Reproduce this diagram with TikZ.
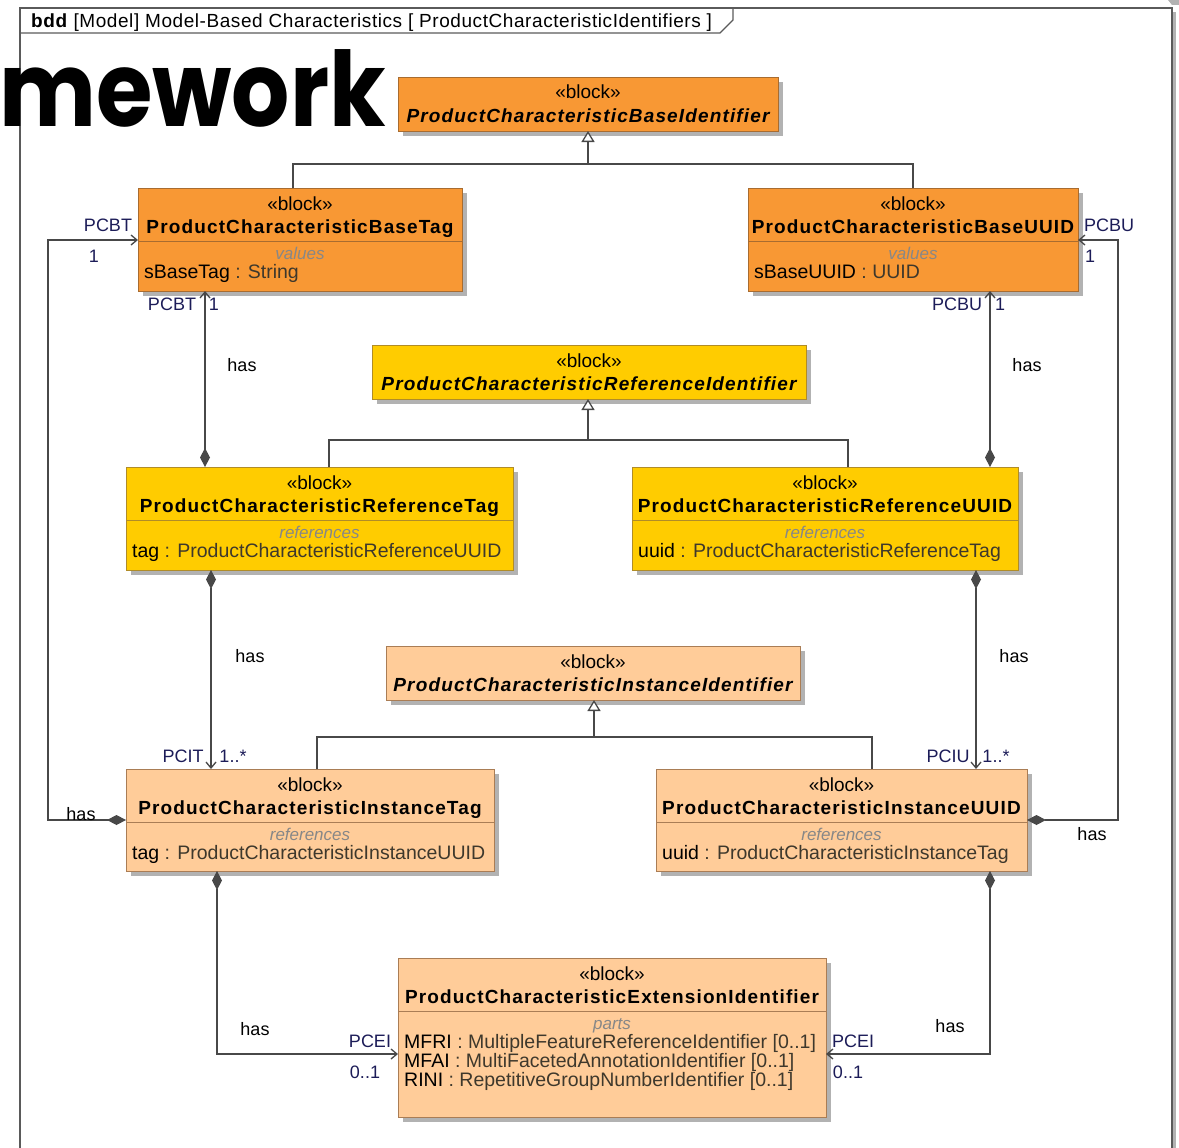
\documentclass[tikz,border=0pt]{standalone}
\usepackage{fontspec}
\setmainfont{Liberation Sans}
\newfontfamily\headlinefont{Poppins}
\usetikzlibrary{arrows.meta}

\definecolor{baseorange}{RGB}{248,152,52}
\definecolor{baseborder}{RGB}{168,108,48}
\definecolor{refyellow}{RGB}{255,204,0}
\definecolor{refborder}{RGB}{176,140,40}
\definecolor{instpeach}{RGB}{255,204,153}
\definecolor{instborder}{RGB}{170,125,85}
\definecolor{boxshadow}{RGB}{178,178,178}
\definecolor{linegrey}{RGB}{72,72,72}
\definecolor{framegrey}{RGB}{90,90,90}
\definecolor{rolenavy}{RGB}{28,28,88}
\definecolor{compgrey}{RGB}{135,135,135}
\definecolor{typegrey}{RGB}{62,56,44}

\tikzset{
  blockbox/.style={draw, line width=0.9pt, inner sep=0pt, outer sep=0pt, anchor=north west},
  stereo/.style={font=\fontsize{19}{19}\selectfont, inner sep=0pt, anchor=base},
  bname/.style={font=\fontsize{19}{19}\selectfont\bfseries\addfontfeature{LetterSpace=6}, inner sep=0pt, anchor=base},
  aname/.style={font=\fontsize{19}{19}\selectfont\bfseries\itshape\addfontfeature{LetterSpace=6}, inner sep=0pt, anchor=base},
  complbl/.style={font=\fontsize{17}{17}\selectfont\itshape, text=compgrey, inner sep=0pt, anchor=base},
  attr/.style={font=\fontsize{19.5}{19.5}\selectfont, inner sep=0pt, anchor=base west},
  role/.style={font=\fontsize{18}{18}\selectfont, text=rolenavy, inner sep=0pt},
  haslbl/.style={font=\fontsize{18}{18}\selectfont, text=black, inner sep=0pt},
  conn/.style={draw=linegrey, line width=1.4pt},
  genline/.style={conn},
  gentip/.style={conn, -{Triangle[open, length=11pt, width=13pt, fill=white, line width=1.3pt]}},
  comptipnav/.style={{Diamond[length=19pt, width=10pt, fill=linegrey]}-{Straight Barb[length=6pt, width=10pt, line width=1.3pt]}},
  frameline/.style={draw=framegrey, line width=1.5pt},
}

% a block: shadow, box
\newcommand{\umlbox}[7]{%
  \fill[boxshadow] (#2+5,#3+5) rectangle ++(#4,#5);
  \node[blockbox, fill=#6, draw=#7, minimum width=#4pt, minimum height=#5pt] (#1) at (#2,#3) {};}
% stereotype and name
\newcommand{\umlhead}[3]{%
  \node[stereo] (#1-st) at ([yshift=-22pt]#1.north) {«block»};
  \node[#3] (#1-nm) at ([yshift=-45pt]#1.north) {#2};}
% compartment separator and its label
\newcommand{\umlcomp}[3]{%
  \draw[line width=0.9pt, draw=#2] ([yshift=-53pt]#1.north west) -- ([yshift=-53pt]#1.north east);
  \node[complbl] (#1-cl) at ([yshift=-71pt]#1.north) {#3};}

\begin{document}
\begin{tikzpicture}[x=1pt,y=-1pt]
\useasboundingbox (0,0) rectangle (1179,1148);

% diagram frame and its name tab
\fill[boxshadow] (1173,12) rectangle (1176,1148);
\fill[boxshadow] (1168,0) -- (1179,0) -- (1179,5) -- (1172,5) -- cycle;
\draw[frameline] (20,1148) -- (20,8) -- (1172,8) -- (1172,1148);
\draw[frameline, line width=1.1pt] (20,33) -- (720,33) -- (733,20) -- (733,8);
\node[anchor=base west, inner sep=0pt, font=\fontsize{19}{19}\selectfont\addfontfeature{LetterSpace=3}] (title) at (31,28)
  {\textbf{bdd} [Model] Model-Based Characteristics [ ProductCharacteristicIdentifiers ]};

% blocks
\umlbox{bi}{398}{77}{380}{54}{baseorange}{baseborder}
\umlhead{bi}{ProductCharacteristicBaseIdentifier}{aname}

\umlbox{bt}{138}{188}{324}{103}{baseorange}{baseborder}
\umlhead{bt}{ProductCharacteristicBaseTag}{bname}
\umlcomp{bt}{baseborder}{values}
\node[attr] (bt-a1) at ([xshift=6pt,yshift=-90pt]bt.north west) {sBaseTag \textcolor{typegrey}{: String}};

\umlbox{bu}{748}{188}{330}{103}{baseorange}{baseborder}
\umlhead{bu}{ProductCharacteristicBaseUUID}{bname}
\umlcomp{bu}{baseborder}{values}
\node[attr] (bu-a1) at ([xshift=6pt,yshift=-90pt]bu.north west) {sBaseUUID \textcolor{typegrey}{: UUID}};

\umlbox{ri}{372}{345}{434}{54}{refyellow}{refborder}
\umlhead{ri}{ProductCharacteristicReferenceIdentifier}{aname}

\umlbox{rt}{126}{467}{387}{103}{refyellow}{refborder}
\umlhead{rt}{ProductCharacteristicReferenceTag}{bname}
\umlcomp{rt}{refborder}{references}
\node[attr] (rt-a1) at ([xshift=6pt,yshift=-90pt]rt.north west) {tag \textcolor{typegrey}{: ProductCharacteristicReferenceUUID}};

\umlbox{ru}{632}{467}{386}{103}{refyellow}{refborder}
\umlhead{ru}{ProductCharacteristicReferenceUUID}{bname}
\umlcomp{ru}{refborder}{references}
\node[attr] (ru-a1) at ([xshift=6pt,yshift=-90pt]ru.north west) {uuid \textcolor{typegrey}{: ProductCharacteristicReferenceTag}};

\umlbox{ii}{386}{646}{414}{54}{instpeach}{instborder}
\umlhead{ii}{ProductCharacteristicInstanceIdentifier}{aname}

\umlbox{it}{126}{769}{368}{102}{instpeach}{instborder}
\umlhead{it}{ProductCharacteristicInstanceTag}{bname}
\umlcomp{it}{instborder}{references}
\node[attr] (it-a1) at ([xshift=6pt,yshift=-90pt]it.north west) {tag \textcolor{typegrey}{: ProductCharacteristicInstanceUUID}};

\umlbox{iu}{656}{769}{371}{102}{instpeach}{instborder}
\umlhead{iu}{ProductCharacteristicInstanceUUID}{bname}
\umlcomp{iu}{instborder}{references}
\node[attr] (iu-a1) at ([xshift=6pt,yshift=-90pt]iu.north west) {uuid \textcolor{typegrey}{: ProductCharacteristicInstanceTag}};

\umlbox{ei}{398}{958}{428}{159}{instpeach}{instborder}
\umlhead{ei}{ProductCharacteristicExtensionIdentifier}{bname}
\umlcomp{ei}{instborder}{parts}
\node[attr] (ei-a1) at ([xshift=6pt,yshift=-90pt]ei.north west) {MFRI \textcolor{typegrey}{: MultipleFeatureReferenceIdentifier [0..1]}};
\node[attr] (ei-a2) at ([xshift=6pt,yshift=-109pt]ei.north west) {MFAI \textcolor{typegrey}{: MultiFacetedAnnotationIdentifier [0..1]}};
\node[attr] (ei-a3) at ([xshift=6pt,yshift=-128pt]ei.north west) {RINI \textcolor{typegrey}{: RepetitiveGroupNumberIdentifier [0..1]}};

% generalizations
\coordinate (gb) at (588,164);
\draw[genline] (bt.north -| 293,0) |- (gb) -| (bu.north -| 913,0);
\draw[gentip] (gb) -- (bi.south -| gb);
\coordinate (gr) at (588,440);
\draw[genline] (rt.north -| 329,0) |- (gr) -| (ru.north -| 848,0);
\draw[gentip] (gr) -- (ri.south -| gr);
\coordinate (gi) at (594,737);
\draw[genline] (it.north -| 317,0) |- (gi) -| (iu.north -| 872,0);
\draw[gentip] (gi) -- (ii.south -| gi);

% compositions
\draw[conn, comptipnav] (rt.north -| 205,0) -- (bt.south -| 205,0);
\draw[conn, comptipnav] (ru.north -| 990,0) -- (bu.south -| 990,0);
\draw[conn, comptipnav] (rt.south -| 211,0) -- (it.north -| 211,0);
\draw[conn, comptipnav] (ru.south -| 976,0) -- (iu.north -| 976,0);
\draw[conn, comptipnav] (it.west |- 0,820) -- (48,820) |- (bt.west |- 0,240);
\draw[conn, comptipnav] (iu.east |- 0,820) -- (1118,820) |- (bu.east |- 0,240);
\draw[conn, comptipnav] (it.south -| 217,0) |- (ei.west |- 0,1054);
\draw[conn, comptipnav] (iu.south -| 990,0) |- (ei.east |- 0,1054);

% association end labels
\node[role] (l-pcbt1) at (108,225) {PCBT};
\node[role] (l-m1) at (94,256) {1};
\node[role] (l-pcbu1) at (1109,225) {PCBU};
\node[role] (l-m2) at (1090,256) {1};
\node[role] (l-pcbt2) at (172,304) {PCBT};
\node[role] (l-m3) at (214,304) {1};
\node[role] (l-pcbu2) at (957,304) {PCBU};
\node[role] (l-m4) at (1000,304) {1};
\node[role] (l-pcit) at (183,756) {PCIT};
\node[role] (l-m5) at (233,756) {1..*};
\node[role] (l-pciu) at (948,756) {PCIU};
\node[role] (l-m6) at (996,756) {1..*};
\node[role] (l-pcei1) at (370,1041) {PCEI};
\node[role] (l-m7) at (365,1072) {0..1};
\node[role] (l-pcei2) at (853,1041) {PCEI};
\node[role] (l-m8) at (848,1072) {0..1};

\node[haslbl] (h1) at (242,365) {has};
\node[haslbl] (h2) at (1027,365) {has};
\node[haslbl] (h3) at (250,656) {has};
\node[haslbl] (h4) at (1014,656) {has};
\node[haslbl] (h5) at (81,814) {has};
\node[haslbl] (h6) at (1092,834) {has};
\node[haslbl] (h7) at (255,1029) {has};
\node[haslbl] (h8) at (950,1026) {has};

% headline fragment laid over the frame
\node[anchor=base west, inner sep=0pt, font=\headlinefont\bfseries\fontsize{104}{104}\selectfont] (headline) at (-1,126) {\scalebox{0.88}[1]{mework}};
\end{tikzpicture}
\end{document}
